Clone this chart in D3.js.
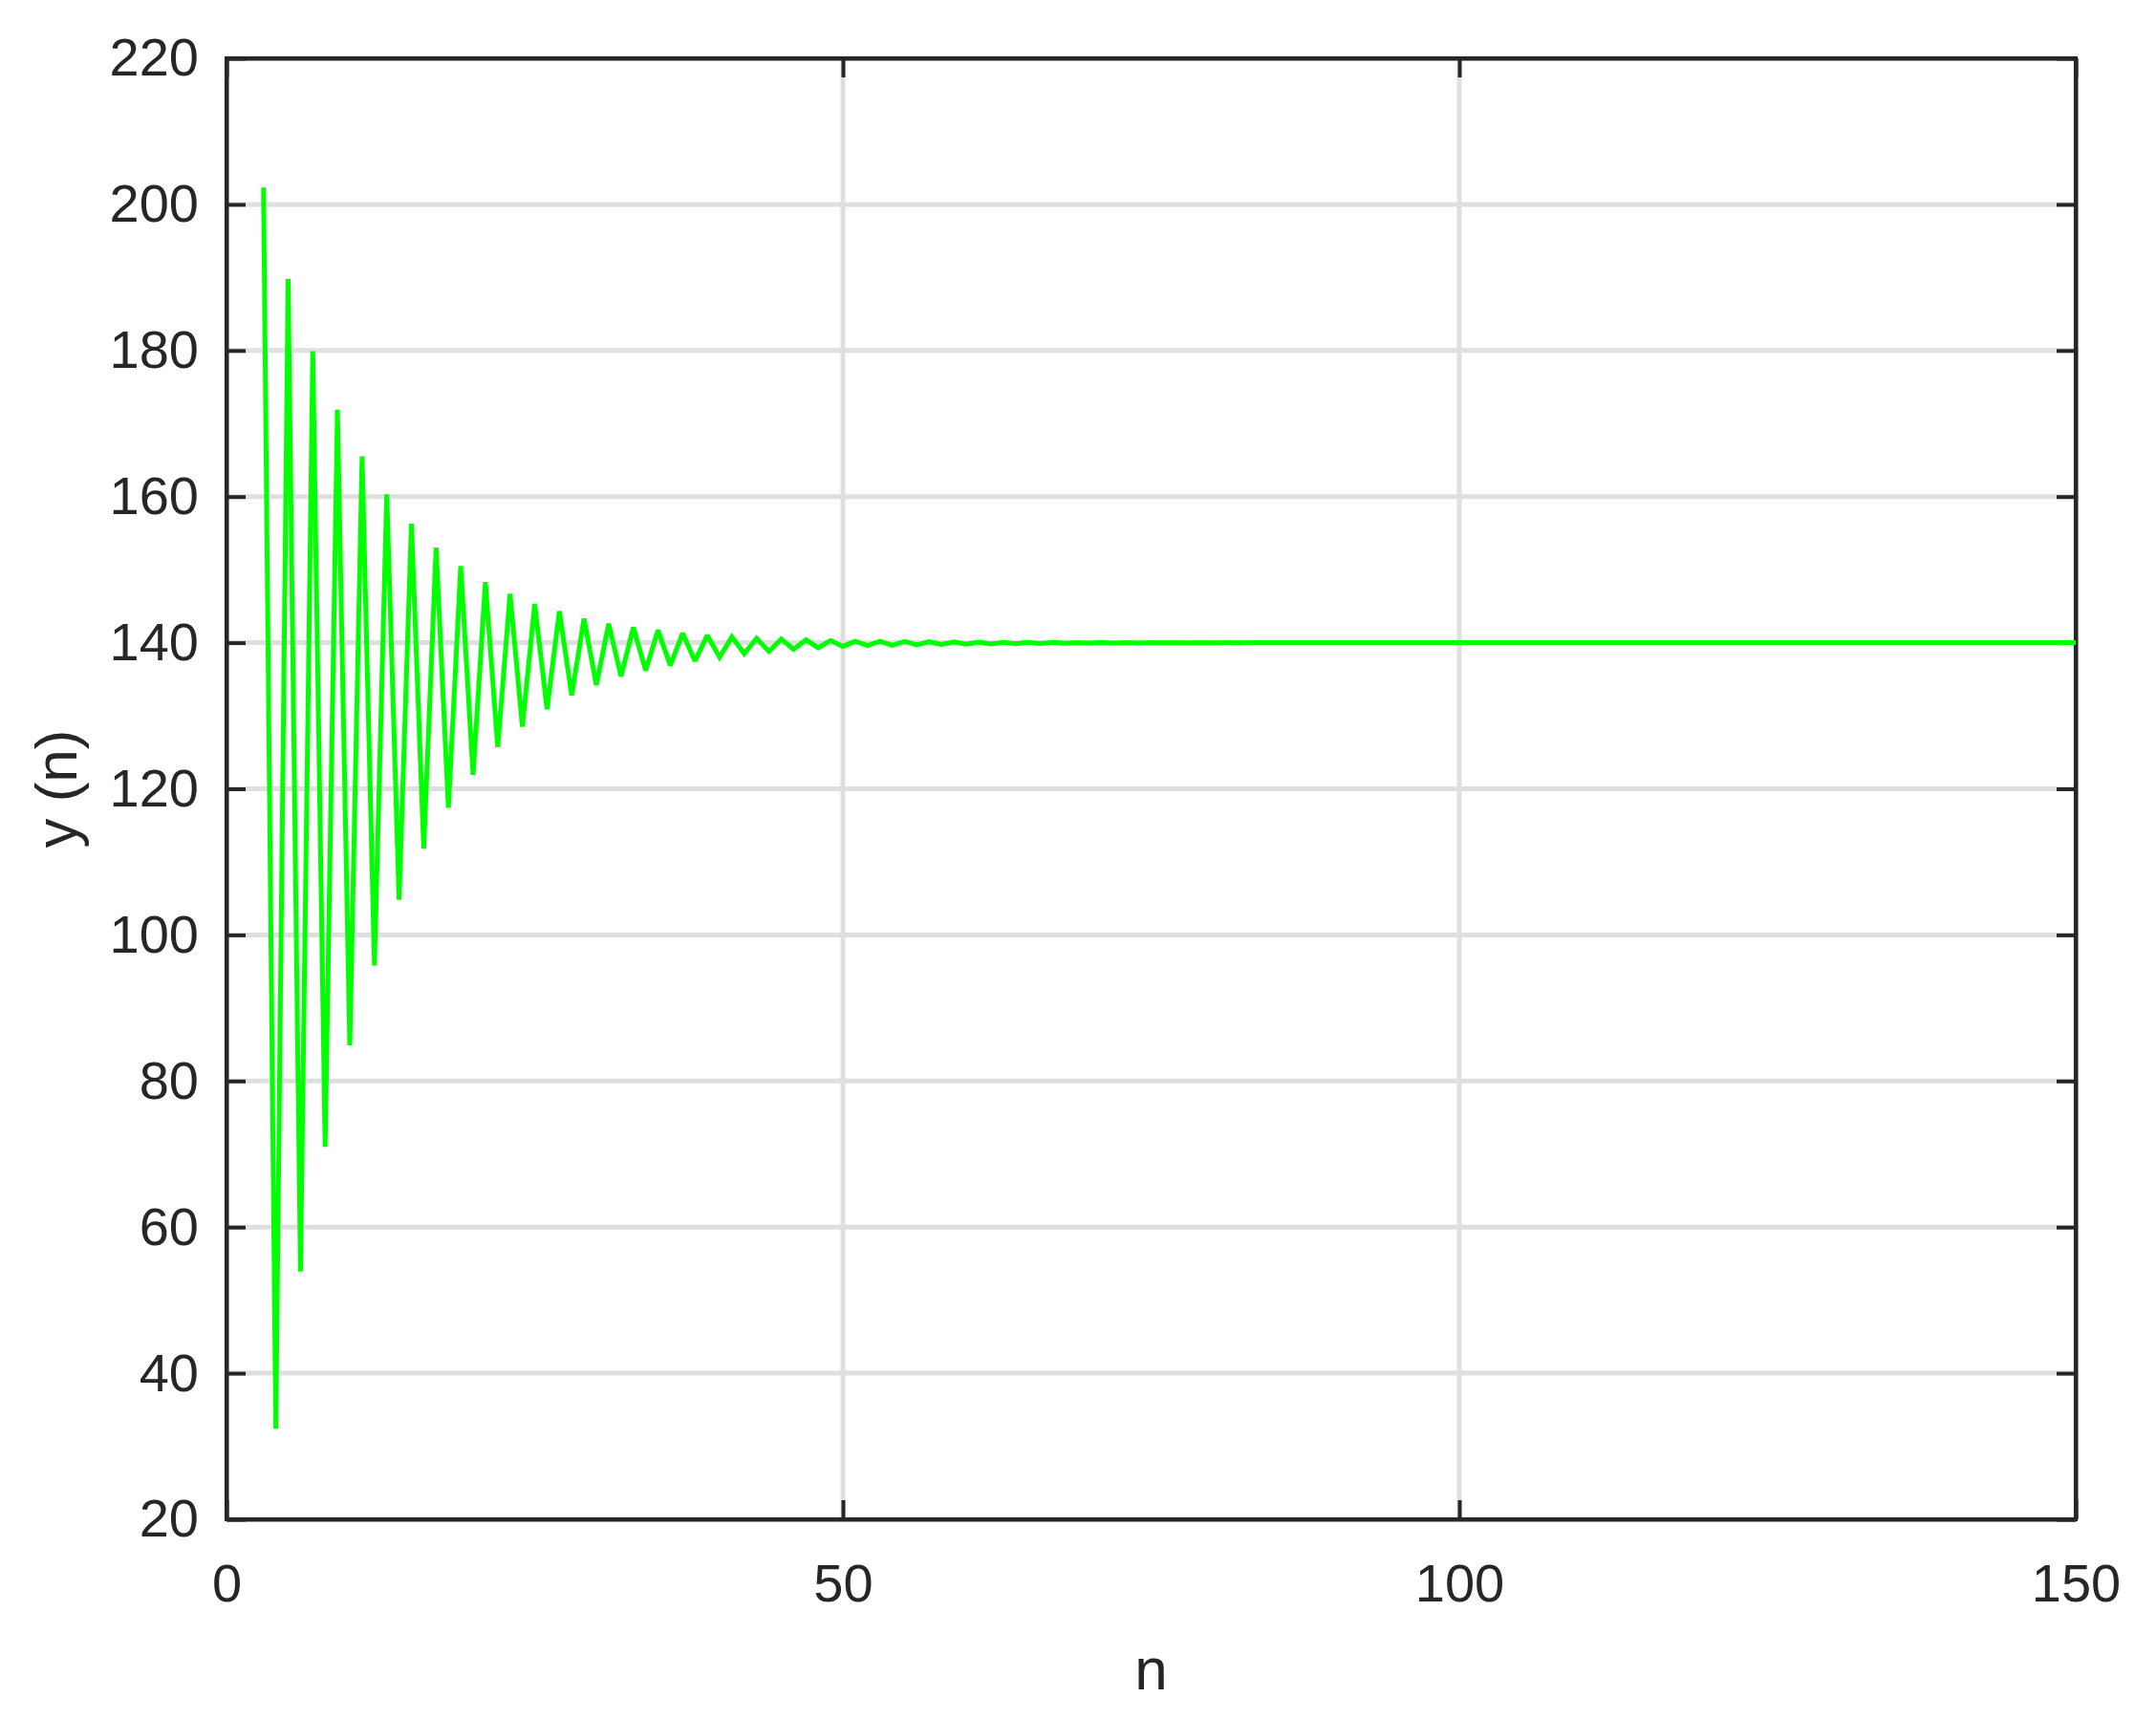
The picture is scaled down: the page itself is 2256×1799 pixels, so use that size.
<!DOCTYPE html>
<html>
<head>
<meta charset="utf-8">
<script src="https://cdn.jsdelivr.net/npm/d3@7"></script>
<style>
  html, body { margin: 0; padding: 0; background: #ffffff; }
  svg { display: block; }
  text { font-family: "Liberation Sans", Arial, Helvetica, sans-serif; fill: #262626; }
</style>
</head>
<body>
<svg id="chart" width="2256" height="1799"></svg>
<script>
// ---- data ----
const firstN = 3;
const yValues = [
  202.3, 32.4, 189.8, 53.9, 179.9, 71.0, 171.9, 84.9, 165.5, 95.8,
  160.3, 104.8, 156.3, 111.8, 153.0, 117.4, 150.5, 121.9, 148.3, 125.7,
  146.7, 128.5, 145.3, 130.9, 144.3, 132.8, 143.3, 134.2, 142.6, 135.4,
  142.1, 136.2, 141.7, 136.9, 141.3, 137.5, 141.0, 138.0, 140.8, 138.5,
  140.6, 138.8, 140.5, 139.1, 140.4, 139.3, 140.3, 139.5, 140.2, 139.6,
  140.2, 139.65, 140.15, 139.7, 140.12, 139.75, 140.1, 139.78, 140.07, 139.82,
  140.05, 139.86, 140.04, 139.89, 140.03, 139.92, 140.02, 139.94, 140.01, 139.95,
  140.01, 139.96, 140.01, 139.97, 140.0, 139.98, 140.0, 139.98, 140.0, 139.99,
  140, 140, 140, 140, 140, 140, 140, 140, 140, 140,
  140, 140, 140, 140, 140, 140, 140, 140, 140, 140,
  140, 140, 140, 140, 140, 140, 140, 140, 140, 140,
  140, 140, 140, 140, 140, 140, 140, 140, 140, 140,
  140, 140, 140, 140, 140, 140, 140, 140, 140, 140,
  140, 140, 140, 140, 140, 140, 140, 140, 140, 140,
  140, 140, 140, 140, 140, 140, 140, 140
];
const xTicks = [0, 50, 100, 150];
const yTicks = [20, 40, 60, 80, 100, 120, 140, 160, 180, 200, 220];
const xDomain = [0, 150];
const yDomain = [20, 220];
const xLabel = "n";
const yLabel = "y (n)";

// ---- layout ----
const L = 237, R = 2172, T = 61, B = 1590;
const axisColor = "#262626";
const gridColor = "#dfdfdf";
const lineColor = "#00ff00";

const svg = d3.select("#chart");
const x = d3.scaleLinear().domain(xDomain).range([L, R]);
const y = d3.scaleLinear().domain(yDomain).range([B, T]);

const data = yValues.map((v, i) => ({ n: firstN + i, v: v }));

// grid
const grid = svg.append("g");
grid.selectAll("line.gx").data(xTicks).enter().append("line")
  .attr("x1", d => x(d)).attr("x2", d => x(d))
  .attr("y1", T).attr("y2", B)
  .attr("stroke", gridColor).attr("stroke-width", 5);
grid.selectAll("line.gy").data(yTicks).enter().append("line")
  .attr("x1", L).attr("x2", R)
  .attr("y1", d => y(d)).attr("y2", d => y(d))
  .attr("stroke", gridColor).attr("stroke-width", 5);

// axes
const tickLen = 20;
function styleAxis(g) {
  g.selectAll("path.domain").attr("stroke", axisColor).attr("stroke-width", 4);
  g.selectAll(".tick line").attr("stroke", axisColor).attr("stroke-width", 4);
  g.selectAll(".tick text")
    .attr("fill", axisColor)
    .style("font-size", "56px")
    .style("font-family", '"Liberation Sans", Arial, Helvetica, sans-serif');
}

svg.append("g").attr("transform", `translate(0,${B})`)
  .call(d3.axisBottom(x).tickValues(xTicks).tickSizeInner(-tickLen).tickSizeOuter(0).tickPadding(46).tickFormat(d3.format("d")))
  .call(styleAxis);
svg.append("g").attr("transform", `translate(0,${T})`)
  .call(d3.axisTop(x).tickValues(xTicks).tickSizeInner(-tickLen).tickSizeOuter(0).tickFormat(""))
  .call(styleAxis);
svg.append("g").attr("transform", `translate(${L},0)`)
  .call(d3.axisLeft(y).tickValues(yTicks).tickSizeInner(-tickLen).tickSizeOuter(0).tickPadding(29).tickFormat(d3.format("d")))
  .call(styleAxis);
svg.append("g").attr("transform", `translate(${R},0)`)
  .call(d3.axisRight(y).tickValues(yTicks).tickSizeInner(-tickLen).tickSizeOuter(0).tickFormat(""))
  .call(styleAxis);

// box
svg.append("rect")
  .attr("x", L).attr("y", T).attr("width", R - L).attr("height", B - T)
  .attr("fill", "none").attr("stroke", axisColor).attr("stroke-width", 4);

// data line (drawn on top)
const line = d3.line().x(d => x(d.n)).y(d => y(d.v));
svg.append("path").datum(data)
  .attr("d", line)
  .attr("fill", "none")
  .attr("stroke", lineColor)
  .attr("stroke-width", 5)
  .attr("stroke-linejoin", "miter")
  .attr("stroke-miterlimit", 2);

// labels
svg.append("text")
  .attr("x", (L + R) / 2).attr("y", 1768)
  .attr("text-anchor", "middle")
  .style("font-size", "62px")
  .text(xLabel);
svg.append("text")
  .attr("transform", `translate(80,${(T + B) / 2}) rotate(-90)`)
  .attr("text-anchor", "middle")
  .style("font-size", "62px")
  .text(yLabel);
</script>
</body>
</html>
